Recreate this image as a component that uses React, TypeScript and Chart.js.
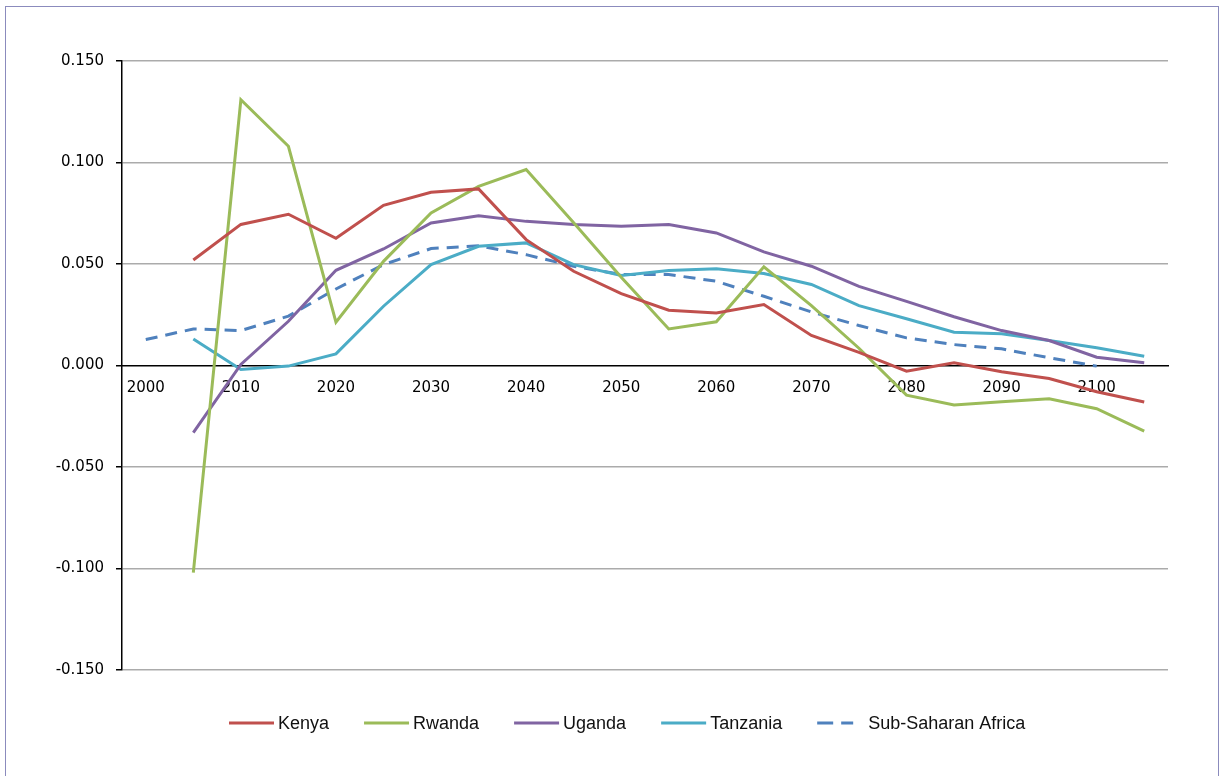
import React, { useEffect, useRef } from "react";
import { Chart, registerables } from "chart.js";

Chart.register(...registerables);

const years: string[] = [
  "2000", "2005", "2010", "2015", "2020", "2025", "2030", "2035", "2040", "2045", "2050",
  "2055", "2060", "2065", "2070", "2075", "2080", "2085", "2090", "2095", "2100", "2105",
];

const kenya: (number | null)[] = [
  null, 0.052, 0.0695, 0.0745, 0.0627, 0.0789, 0.0853, 0.087, 0.062, 0.0464, 0.0354,
  0.0272, 0.0259, 0.030, 0.0148, 0.0065, -0.0028, 0.0013, -0.0031, -0.0064, -0.0129, -0.018,
];

const rwanda: (number | null)[] = [
  null, -0.102, 0.1309, 0.108, 0.0213, 0.0513, 0.0751, 0.0882, 0.0965, 0.0703, 0.0435,
  0.018, 0.0215, 0.0486, 0.0295, 0.0085, -0.0146, -0.0195, -0.0179, -0.0164, -0.0213, -0.0323,
];

const uganda: (number | null)[] = [
  null, -0.0331, 0.0005, 0.0218, 0.0469, 0.0574, 0.0702, 0.0738, 0.071, 0.0694, 0.0686,
  0.0694, 0.0653, 0.056, 0.0489, 0.039, 0.0316, 0.024, 0.0172, 0.0123, 0.0041, 0.0013,
];

const tanzania: (number | null)[] = [
  null, 0.0131, -0.002, -0.0003, 0.0057, 0.0292, 0.0497, 0.0587, 0.0604, 0.0497, 0.0443,
  0.0468, 0.0476, 0.0453, 0.0399, 0.0295, 0.023, 0.0164, 0.0156, 0.0123, 0.0087, 0.0046,
];

const subSaharan: (number | null)[] = [
  0.0128, 0.018, 0.0172, 0.0243, 0.0377, 0.0497, 0.0576, 0.059, 0.0546, 0.0489, 0.0448,
  0.0448, 0.0415, 0.0341, 0.0264, 0.0197, 0.0136, 0.0103, 0.0082, 0.0038, -0.0003, null,
];

const seriesLabels: string[] = ["Kenya", "Rwanda", "Uganda", "Tanzania", "Sub-Saharan Africa"];

const Y_MIN = -0.15;
const Y_MAX = 0.15;
const Y_STEP = 0.05;

const COLORS = ["#C0504D", "#9BBB59", "#8064A2", "#4BACC6", "#4F81BD"];

const frameAndLegend = {
  id: "frameAndLegend",
  afterDraw(chart: any) {
    const ctx: CanvasRenderingContext2D = chart.ctx;
    ctx.save();
    // outer frame
    ctx.strokeStyle = "#8b8bbd";
    ctx.lineWidth = 1;
    ctx.setLineDash([]);
    ctx.strokeRect(5.5, 6.5, 1213, 800);

    // legend
    const y = 723;
    let x = 229;
    ctx.font = '18px "Liberation Sans", Arial, sans-serif';
    ctx.textBaseline = "middle";
    ctx.textAlign = "left";
    chart.data.datasets.forEach((ds: any) => {
      const dashed = ds.borderDash && ds.borderDash.length > 0;
      const len = dashed ? 36 : 45;
      ctx.strokeStyle = ds.borderColor;
      ctx.lineWidth = 3;
      ctx.lineCap = "butt";
      ctx.setLineDash(dashed ? [16, 8] : []);
      ctx.beginPath();
      ctx.moveTo(x, y);
      ctx.lineTo(x + len, y);
      ctx.stroke();
      ctx.setLineDash([]);
      x += len + (dashed ? 15 : 4);
      ctx.fillStyle = "#111";
      ctx.fillText(ds.label, x, y + 1);
      x += ctx.measureText(ds.label).width + 35;
    });
    ctx.restore();
  },
};

export default function App() {
  const canvasRef = useRef<HTMLCanvasElement | null>(null);

  useEffect(() => {
    if (!canvasRef.current) return;
    const series = [kenya, rwanda, uganda, tanzania, subSaharan];
    const chart = new Chart(canvasRef.current, {
      type: "line",
      data: {
        labels: years,
        datasets: series.map((d, i) => ({
          label: seriesLabels[i],
          data: d,
          borderColor: COLORS[i],
          backgroundColor: COLORS[i],
          borderWidth: 3,
          borderDash: i === 4 ? [12, 8] : [],
          pointRadius: 0,
          pointHoverRadius: 0,
          tension: 0,
          fill: false,
          spanGaps: false,
        })),
      },
      options: {
        animation: false,
        responsive: false,
        events: [],
        layout: { padding: { left: 0, top: 61, right: 51, bottom: 106 } },
        plugins: {
          legend: { display: false },
          tooltip: { enabled: false },
        },
        scales: {
          x: {
            type: "category",
            offset: true,
            position: { y: 0 } as any,
            grid: { display: true, drawOnChartArea: false, drawTicks: false, offset: true },
            border: { display: true, color: "#000", width: 1.5 },
            ticks: {
              autoSkip: false,
              maxRotation: 0,
              minRotation: 0,
              padding: 14,
              color: "#000",
              font: { family: '"DejaVu Sans", sans-serif', size: 15 },
              callback: (_v: any, idx: number) => (idx % 2 === 0 ? years[idx] : ""),
            },
          },
          y: {
            min: Y_MIN,
            max: Y_MAX,
            afterFit: (scale: any) => {
              scale.width = 122;
            },
            grid: {
              color: (c: any) =>
                c.tick && Math.abs(c.tick.value) < 1e-9 ? "rgba(0,0,0,0)" : "#ababab",
              lineWidth: 1.5,
              tickColor: "#000",
              tickLength: 6,
            },
            border: { display: true, color: "#000", width: 1.5 },
            ticks: {
              stepSize: Y_STEP,
              padding: 12,
              color: "#000",
              font: { family: '"DejaVu Sans", sans-serif', size: 15 },
              callback: (v: any) => {
                const n = Math.abs(Number(v)) < 1e-9 ? 0 : Number(v);
                return n.toFixed(3);
              },
            },
          },
        },
      },
      plugins: [frameAndLegend],
    });
    return () => chart.destroy();
  }, []);

  return (
    <div style={{ position: "absolute", left: 0, top: 0, width: 1219, height: 776, background: "#fff" }}>
      <canvas ref={canvasRef} width={1219} height={776} style={{ display: "block" }} />
    </div>
  );
}
